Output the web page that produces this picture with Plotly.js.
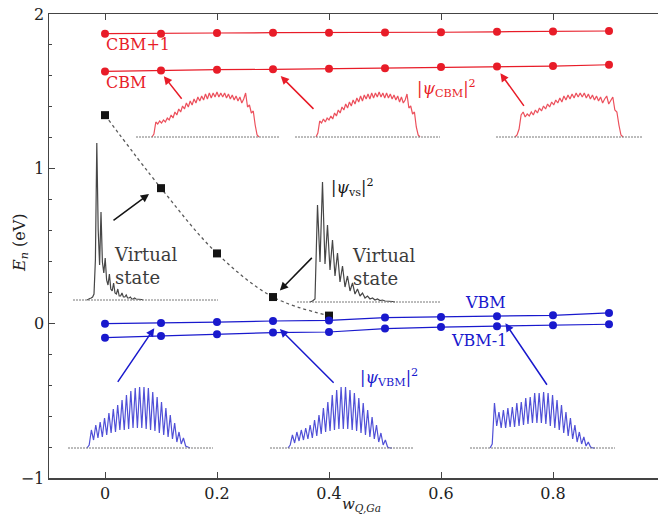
<!DOCTYPE html>
<html><head><meta charset="utf-8">
<script src="https://cdn.plot.ly/plotly-3.0.1.min.js"></script>
<style>html,body{margin:0;padding:0;background:#fff}#chart{width:658px;height:517px}</style>
</head><body><div id="chart"></div>
<script>
// ---- main data ----
const wQ = [0, 0.1, 0.2, 0.3, 0.4, 0.5, 0.6, 0.7, 0.8, 0.9];
const cbmPlus1 = [1.873, 1.873, 1.877, 1.879, 1.879, 1.881, 1.882, 1.885, 1.887, 1.890];
const cbm = [1.629, 1.635, 1.640, 1.642, 1.646, 1.650, 1.657, 1.661, 1.663, 1.672];
const vbm = [-0.002, 0.002, 0.008, 0.015, 0.019, 0.037, 0.041, 0.045, 0.052, 0.067];
const vbmMinus1 = [-0.093, -0.082, -0.071, -0.060, -0.056, -0.034, -0.024, -0.019, -0.013, -0.006];
const wQvs = [0, 0.1, 0.2, 0.3, 0.4];
const virtualState = [1.346, 0.874, 0.452, 0.170, 0.050];

// ---- inset wavefunction profiles (|psi|^2, arbitrary units) ----
const psiCBM_a = [0, 3, 15, 13, 16, 14, 17, 15, 19, 17, 22, 19, 25, 22, 28, 25, 31, 28, 34, 30, 36, 32, 38, 34, 40, 36, 41, 37, 43, 38, 44, 39, 44, 40, 45, 40, 44, 40, 44, 39, 43, 38, 42, 37, 41, 36, 40, 34, 38, 44, 30, 32, 24, 26, 12, 2, 0];
const psiCBM_b = [0, 4, 16, 14, 18, 15, 19, 17, 21, 18, 24, 21, 27, 24, 30, 27, 33, 29, 35, 31, 37, 33, 39, 35, 41, 36, 42, 38, 43, 38, 44, 39, 44, 40, 45, 40, 44, 39, 44, 39, 43, 38, 42, 37, 41, 35, 40, 34, 37, 43, 29, 31, 23, 25, 10, 2, 0];
const psiCBM_c = [0, 2, 8, 22, 25, 20, 23, 21, 25, 22, 27, 24, 29, 26, 31, 28, 33, 30, 35, 32, 37, 34, 39, 35, 41, 37, 42, 38, 43, 39, 44, 40, 44, 40, 44, 39, 43, 38, 42, 37, 41, 36, 40, 34, 38, 41, 33, 36, 40, 27, 25, 12, 2, 0];
const psiVS_a = [0, 1, 1.5, 2, 3, 6, 40, 157, 70, 35, 88, 38, 27, 42, 20, 15, 26, 11, 9, 17, 7, 6, 11, 4, 4, 7, 3, 3, 5, 2, 2, 3, 1, 1, 2, 1, 1, 1, 0.5, 0.5, 0];
const psiVS_b = [0, 1, 3, 97, 40, 120, 38, 77, 32, 62, 26, 49, 20, 36, 15, 26, 11, 19, 8, 13, 6, 9, 4, 6, 3, 4, 2, 3, 1.5, 2, 1, 1, 0.5, 0.5, 0];
const psiVBM_a = [0, 3, 18, 8, 23, 10, 26, 11, 30, 13, 35, 15, 39, 16, 43, 18, 48, 18, 53, 19, 57, 20, 60, 20, 61, 20, 61, 19, 60, 18, 56, 17, 51, 15, 46, 13, 40, 11, 33, 9, 25, 6, 16, 4, 10, 2, 1, 0];
const psiVBM_b = [0, 3, 13, 5, 16, 7, 18, 8, 20, 9, 23, 10, 28, 12, 33, 14, 40, 16, 46, 17, 53, 18, 58, 19, 61, 19, 61, 19, 58, 18, 55, 17, 50, 15, 45, 13, 38, 11, 31, 9, 23, 6, 15, 3, 8, 1, 0, 0];
const psiVBM_c = [0, 4, 45, 22, 36, 20, 38, 20, 40, 21, 41, 21, 45, 22, 46, 23, 50, 24, 51, 25, 55, 25, 55, 25, 56, 24, 55, 22, 53, 20, 48, 18, 43, 15, 36, 12, 30, 9, 23, 6, 16, 4, 11, 2, 6, 1, 0, 0];

// ---- styling / layout config ----
const RED = 'rgb(232,28,40)', BLUE = 'rgb(25,25,205)', BLACK = 'rgb(20,20,20)';
const RED_IN = 'rgb(236,80,92)', BLUE_IN = 'rgb(80,80,215)', BLACK_IN = 'rgb(70,70,70)';
const FONT = 'DejaVu Serif, Liberation Serif, serif';
const PL = 49, PR = 658, PT = 14, PB = 478;
const px2x = p => (p - PL) / (PR - PL);
const px2y = p => (PB - p) / (PB - PT);

// inset placement (pixel boxes): baseline span, curve span, baseline y, top y
const insets = [
  {vals: psiCBM_a, color: RED_IN, box: [136, 280], curve: [152, 259], base: 137, top: 87},
  {vals: psiCBM_b, color: RED_IN, box: [295, 440], curve: [316, 420], base: 137, top: 87},
  {vals: psiCBM_c, color: RED_IN, box: [496, 642], curve: [515, 623], base: 137, top: 87},
  {vals: psiVS_a, color: BLACK_IN, box: [73, 218], curve: [87, 143], base: 300, top: 135},
  {vals: psiVS_b, color: BLACK_IN, box: [297, 440], curve: [310, 395], base: 302, top: 175},
  {vals: psiVBM_a, color: BLUE_IN, box: [68, 213], curve: [87, 190], base: 448, top: 380},
  {vals: psiVBM_b, color: BLUE_IN, box: [270, 413], curve: [288, 392], base: 448, top: 380},
  {vals: psiVBM_c, color: BLUE_IN, box: [470, 615], curve: [490, 595], base: 448, top: 380}
];

const traces = [];
const shapes = [];
const layout = {
  width: 658, height: 517,
  margin: {l: PL, r: 658 - PR, t: PT, b: 517 - PB, pad: 0},
  paper_bgcolor: '#fff', plot_bgcolor: 'rgba(0,0,0,0)',
  showlegend: false,
  font: {family: FONT, size: 16, color: '#222'},
  xaxis: {
    domain: [0, 1], range: [-0.1, 0.9875], tickvals: [0, 0.2, 0.4, 0.6, 0.8],
    ticktext: ['0', '0.2', '0.4', '0.6', '0.8'],
    ticks: 'inside', ticklen: 6, tickcolor: '#444', tickwidth: 1,
    showline: true, linecolor: '#444', linewidth: 1.5, mirror: 'ticks',
    showgrid: false, zeroline: false,
    tickfont: {family: FONT, size: 16, color: '#222'}
  },
  yaxis: {
    domain: [0, 1], range: [-1, 2], tickvals: [-1, 0, 1, 2],
    ticks: 'inside', ticklen: 6, tickcolor: '#444', tickwidth: 1,
    minor: {dtick: 0.2, ticks: 'inside', ticklen: 3, tickcolor: '#444'},
    showline: true, linecolor: '#444', linewidth: 1.5,
    showgrid: false, zeroline: false,
    tickfont: {family: FONT, size: 16, color: '#222'}
  },
  shapes: shapes,
  annotations: [
    {text: '<i>w<sub>Q,Ga</sub></i>', xref: 'paper', yref: 'paper', x: px2x(361), y: px2y(517),
     xanchor: 'center', yanchor: 'bottom', showarrow: false, font: {family: FONT, size: 15, color: '#222'}},
    {text: '<i>E<sub>n</sub></i> (eV)', xref: 'paper', yref: 'paper', x: px2x(20), y: px2y(243),
     xanchor: 'center', yanchor: 'middle', textangle: -90, showarrow: false, font: {family: FONT, size: 16, color: '#222'}}
  ]
};

insets.forEach((ins, i) => {
  const k = i + 2;
  const n = ins.vals.length;
  const s = (ins.curve[1] - ins.curve[0]) / (n - 1);
  const H = ins.base - ins.top;
  layout['xaxis' + k] = {
    domain: [px2x(ins.box[0]), px2x(ins.box[1])],
    range: [(ins.box[0] - ins.curve[0]) / s, (ins.box[1] - ins.curve[0]) / s],
    anchor: 'y' + k, visible: false, fixedrange: true
  };
  layout['yaxis' + k] = {
    domain: [px2y(ins.base + 3), px2y(ins.top)],
    range: [-3, H], anchor: 'x' + k, visible: false, fixedrange: true
  };
  shapes.push({type: 'line', xref: 'x' + k + ' domain', yref: 'y' + k, x0: 0, x1: 1, y0: 0, y1: 0,
    line: {color: 'rgb(120,120,120)', width: 1, dash: '2px,1px'}});
  traces.push({
    x: ins.vals.map((_, j) => j), y: ins.vals, xaxis: 'x' + k, yaxis: 'y' + k,
    mode: 'lines', line: {color: ins.color, width: 1.2}, hoverinfo: 'skip'
  });
});

// main series
traces.push({x: wQvs, y: virtualState, mode: 'lines', line: {color: 'rgb(90,90,90)', width: 1.3, dash: 'dot', shape: 'spline'}, hoverinfo: 'skip'});
traces.push({x: wQvs, y: virtualState, mode: 'markers', marker: {symbol: 'square', size: 8, color: BLACK}});
traces.push({x: wQ, y: cbmPlus1, mode: 'lines+markers', line: {color: RED, width: 1.2}, marker: {size: 8, color: RED}});
traces.push({x: wQ, y: cbm, mode: 'lines+markers', line: {color: RED, width: 1.2}, marker: {size: 8, color: RED}});
traces.push({x: wQ, y: vbm, mode: 'lines+markers', line: {color: BLUE, width: 1.2}, marker: {size: 8, color: BLUE}});
traces.push({x: wQ, y: vbmMinus1, mode: 'lines+markers', line: {color: BLUE, width: 1.2}, marker: {size: 8, color: BLUE}});

// arrows: [tail x, tail y, head x, head y, color]
const arrows = [
  [0.139, 1.442, 0.104, 1.603, RED],
  [0.375, 1.377, 0.3125, 1.603, RED],
  [0.750, 1.396, 0.705, 1.622, RED],
  [0.0125, 0.659, 0.080, 0.840, BLACK],
  [0.372, 0.433, 0.311, 0.207, BLACK],
  [0.021, -0.388, 0.089, -0.026, BLUE],
  [0.411, -0.394, 0.311, -0.032, BLUE],
  [0.791, -0.407, 0.714, 0.006, BLUE]
];
arrows.forEach(a => layout.annotations.push({
  x: a[2], y: a[3], ax: a[0], ay: a[1], xref: 'x', yref: 'y', axref: 'x', ayref: 'y',
  text: '', showarrow: true, arrowhead: 2, arrowsize: 1.1, arrowwidth: 1.5, arrowcolor: a[4], standoff: 1
}));

const label = (text, x, y, color, xanchor, extra) => layout.annotations.push(Object.assign({
  text: text, x: x, y: y, xref: 'x', yref: 'y', showarrow: false, xanchor: xanchor, yanchor: 'middle',
  font: {family: FONT, size: 16, color: color}
}, extra || {}));
label('CBM+1', -0.002, 1.80, RED, 'left');
label('CBM', -0.002, 1.558, RED, 'left');
label('|<i>ψ</i><sub>CBM</sub>|<sup>2</sup>', 0.553, 1.52, RED, 'left');
label('|<i>ψ</i><sub>vs</sub>|<sup>2</sup>', 0.400, 0.88, BLACK, 'left');
label('Virtual<br>state', 0.073, 0.368, 'rgb(60,60,60)', 'center', {align: 'left', font: {family: FONT, size: 18, color: 'rgb(60,60,60)'}});
label('Virtual<br>state', 0.498, 0.362, 'rgb(60,60,60)', 'center', {align: 'left', font: {family: FONT, size: 18, color: 'rgb(60,60,60)'}});
label('VBM', 0.680, 0.136, BLUE, 'center');
label('VBM-1', 0.668, -0.110, BLUE, 'center');
label('|<i>ψ</i><sub>VBM</sub>|<sup>2</sup>', 0.452, -0.35, BLUE, 'left');

Plotly.newPlot('chart', traces, layout, {displayModeBar: false, staticPlot: true});
</script></body></html>
